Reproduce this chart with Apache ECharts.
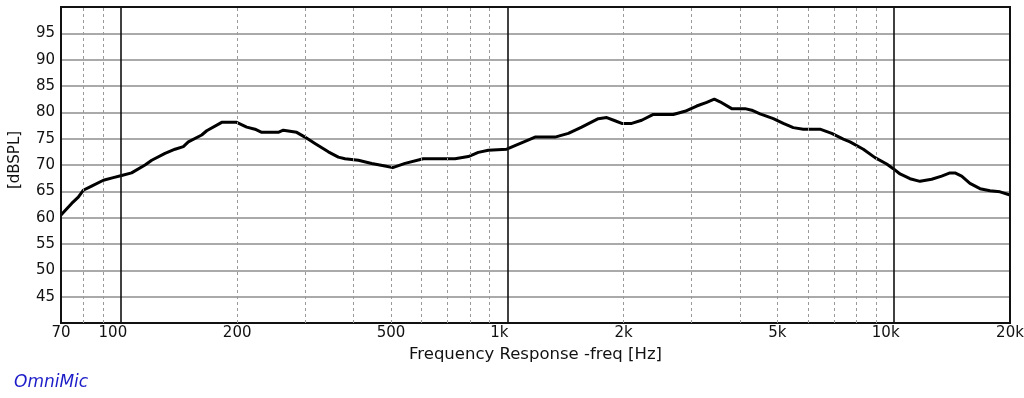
<!DOCTYPE html>
<html>
<head>
<meta charset="utf-8">
<script src="https://cdn.jsdelivr.net/npm/echarts@6/dist/echarts.min.js"></script>
<style>
html,body{margin:0;padding:0;background:#fff;}
#chart{width:1024px;height:398px;}
</style>
</head>
<body>
<div id="chart"></div>
<script>
// Frequency (Hz) and SPL (dB)
var freqHz = [70, 74.6, 77.6, 79.9, 84.0, 90.1, 95.6, 100.5, 106.6, 115.5, 120.2, 130.1, 138.1, 145.1, 149.5,
  161.9, 166.8, 182.4, 199.4, 211.7, 222.4, 231.5, 255.5, 263.2, 279.4, 285.1, 299.5, 317.9, 344.3, 365.4,
  380.2, 411.7, 445.8, 482.7, 505.3, 543.8, 606.4, 732.4, 792.8, 841.5, 893.2, 996.8, 1047, 1112, 1180,
  1329, 1439, 1558, 1720, 1809, 1900, 1978, 2099, 2228, 2388, 2689, 2883, 3092, 3282, 3434, 3553, 3809,
  4124, 4292, 4510, 4881, 5180, 5498, 5836, 6446, 6912, 7407, 7709, 8345, 8947, 9592, 9977, 10385, 11022,
  11697, 12541, 13310, 13985, 14408, 14995, 15754, 16729, 17756, 18843, 20000];
var splDb = [60.5, 62.7, 63.9, 65.2, 66.0, 67.1, 67.6, 68.0, 68.5, 70.0, 70.9, 72.2, 73.0, 73.5, 74.4,
  75.7, 76.5, 78.1, 78.1, 77.2, 76.8, 76.2, 76.2, 76.6, 76.3, 76.2, 75.3, 74.1, 72.5, 71.5,
  71.2, 70.9, 70.3, 69.8, 69.5, 70.3, 71.2, 71.2, 71.6, 72.4, 72.8, 73.0, 73.7, 74.5, 75.3,
  75.3, 76.0, 77.2, 78.8, 79.0, 78.4, 77.9, 77.9, 78.5, 79.6, 79.6, 80.2, 81.2, 81.9, 82.5, 82.0, 80.7,
  80.7, 80.4, 79.7, 78.8, 77.9, 77.1, 76.8, 76.8, 76.0, 74.9, 74.4, 73.0, 71.4, 70.2, 69.3, 68.3, 67.4,
  66.9, 67.3, 67.9, 68.5, 68.5, 67.9, 66.5, 65.5, 65.1, 64.9, 64.3];

// Axis ticks / gridlines
var xTickLabels = [70, 100, 200, 500, 1000, 2000, 5000, 10000, 20000];
var majorGrid = [100, 1000, 10000];
var minorGrid = [80, 90, 200, 300, 400, 500, 600, 700, 800, 900,
  2000, 3000, 4000, 5000, 6000, 7000, 8000, 9000];
var yTicks = [45, 50, 55, 60, 65, 70, 75, 80, 85, 90, 95];

var FONT = 'DejaVu Sans, Liberation Sans, Arial, sans-serif';

var points = freqHz.map(function (f, i) { return [f, splDb[i]]; });

var gridMarks = [];
minorGrid.forEach(function (v) {
  gridMarks.push({ xAxis: v, lineStyle: { color: '#9a9a9a', width: 1, type: [3, 3] } });
});
majorGrid.forEach(function (v) {
  gridMarks.push({ xAxis: v, lineStyle: { color: '#111', width: 1.6, type: 'solid' } });
});

function fmtFreq(v) {
  var r = Math.round(v);
  var s = r >= 1000 ? (Math.round(r / 1000) + 'k') : String(r);
  return majorGrid.indexOf(r) >= 0 ? '{m|' + s + '}' : '{n|' + s + '}';
}

var chart = echarts.init(document.getElementById('chart'), null, { renderer: 'canvas' });
chart.setOption({
  animation: false,
  backgroundColor: '#ffffff',
  grid: { left: 61, right: 14, top: 7, bottom: 75, outerBoundsMode: 'none', containLabel: false, show: true, borderColor: '#111', borderWidth: 2, backgroundColor: 'transparent', z: 5 },
  xAxis: {
    type: 'log',
    logBase: 10,
    min: 70,
    max: 20000,
    name: 'Frequency Response -freq [Hz]',
    nameLocation: 'middle',
    nameGap: 22,
    nameTextStyle: { fontFamily: FONT, fontSize: 16.5, color: '#111' },
    axisLine: { show: true, lineStyle: { color: '#111', width: 2 } },
    axisTick: { show: false },
    splitLine: { show: false },
    minorSplitLine: { show: false },
    axisLabel: {
      customValues: xTickLabels,
      fontFamily: FONT, fontSize: 15, color: '#111', margin: 3,
      formatter: fmtFreq,
      rich: {
        m: { fontFamily: FONT, fontSize: 15, color: '#111', padding: [0, 16, 0, 0] },
        n: { fontFamily: FONT, fontSize: 15, color: '#111' }
      }
    }
  },
  yAxis: {
    type: 'value',
    min: 40,
    max: 100,
    interval: 5,
    name: '[dBSPL]',
    nameLocation: 'middle',
    nameRotate: 90,
    nameGap: 38,
    nameTextStyle: { fontFamily: FONT, fontSize: 15, color: '#111', padding: [0, 0, 0, 10] },
    axisLine: { show: true, lineStyle: { color: '#111', width: 2 } },
    axisTick: { show: false },
    splitLine: { show: true, lineStyle: { color: '#8e8e8e', width: 1.6 } },
    axisLabel: {
      customValues: yTicks,
      fontFamily: FONT, fontSize: 15, color: '#111', margin: 6
    }
  },
  graphic: [{
    type: 'text',
    left: 14,
    top: 374,
    style: { text: 'OmniMic', fontFamily: FONT, fontSize: 17, fontStyle: 'italic', fill: '#1c1cc8' }
  }],
  series: [{
    type: 'line',
    data: [],
    silent: true,
    z: 1,
    markLine: { silent: true, symbol: ['none', 'none'], label: { show: false }, animation: false, data: gridMarks }
  }, {
    type: 'line',
    data: points,
    showSymbol: false,
    symbol: 'none',
    z: 3,
    lineStyle: { color: '#000', width: 3, join: 'round' }
  }]
});
</script>
</body>
</html>
